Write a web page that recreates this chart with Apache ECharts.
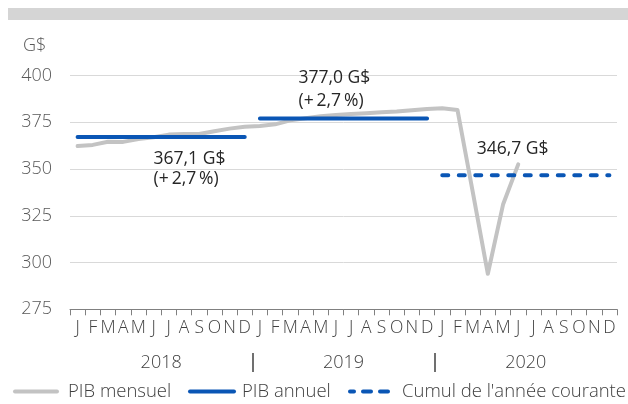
<!DOCTYPE html>
<html><head><meta charset="utf-8">
<script src="https://cdn.jsdelivr.net/npm/echarts@6/dist/echarts.min.js"></script>
<style>html,body{margin:0;padding:0;background:#fff}#c{width:628px;height:404px}</style>
</head><body><div id="c"></div>
<script>
// ---- data ----
const years = ['2018', '2019', '2020'];
const monthLetters = ['J','F','M','A','M','J','J','A','S','O','N','D'];
const monthlyGDP = [362.3, 362.9, 364.6, 364.5, 366.0, 367.0, 368.4, 368.7, 368.7, 370.2, 371.6, 372.6,
                    373.0, 373.9, 376.0, 377.1, 378.2, 378.9, 379.4, 379.8, 380.3, 380.7, 381.4, 382.1,
                    382.5, 381.6, 338.0, 294.0, 331.0, 352.5];
const annualGDP = [367.1, 377.0];      // 2018, 2019
const annualGrowth = [2.7, 2.7];       // %
const ytdGDP = [346.7];                // 2020 year to date
const yMin = 275, yMax = 400, yStep = 25;

// ---- build ----
const categories = [];
years.forEach(y => monthLetters.forEach((m, i) => categories.push(y + '-' + (i + 1))));
const nMonths = monthLetters.length;
const fmt = v => v.toFixed(1).replace('.', ',');
const FONT = "'Open Sans', sans-serif";
const FW = 300;
const FS = 18;
const BLUE = '#0a56b5', GRAY = '#c3c3c3';

function yearSegment(yearIdx, value, labelIdx, labelCfg) {
  const d = categories.map(() => null);
  for (let i = 0; i < nMonths; i++) d[yearIdx * nMonths + i] = value;
  if (labelCfg) {
    d[yearIdx * nMonths + labelIdx] = {
      value: value, symbol: 'circle', symbolSize: 1, itemStyle: { color: 'rgba(0,0,0,0)', borderWidth: 0 },
      label: Object.assign({
        show: true, align: 'left', fontFamily: FONT, fontWeight: 400, fontSize: 17.5, color: '#262626', lineHeight: 22
      }, labelCfg) };
  }
  return d;
}

const series = [
  { name: 'PIB mensuel', type: 'line', data: monthlyGDP, symbol: 'none', z: 2,
    lineStyle: { color: GRAY, width: 4, cap: 'round', join: 'round' }, itemStyle: { color: GRAY } },
  { name: 'PIB annuel', type: 'line', symbol: 'none', z: 3,
    data: yearSegment(0, annualGDP[0], 5, { position: 'bottom', distance: 11, lineHeight: 20.5,
      formatter: fmt(annualGDP[0]) + ' G$\n(+\u2009' + fmt(annualGrowth[0]) + '\u2009%)' }),
    lineStyle: { color: BLUE, width: 4, cap: 'round' }, itemStyle: { color: BLUE } },
  { name: 'PIB annuel', type: 'line', symbol: 'none', z: 3,
    data: yearSegment(1, annualGDP[1], 3, { position: 'top', distance: 6, offset: [-7, 0], lineHeight: 23,
      formatter: fmt(annualGDP[1]) + ' G$\n(+\u2009' + fmt(annualGrowth[1]) + '\u2009%)' }),
    lineStyle: { color: BLUE, width: 4, cap: 'round' }, itemStyle: { color: BLUE } },
  { name: "Cumul de l'année courante", type: 'line', symbol: 'none', z: 3,
    data: yearSegment(2, ytdGDP[0], 2, { position: 'top', distance: 15, offset: [4, 0],
      formatter: fmt(ytdGDP[0]) + ' G$' }),
    lineStyle: { color: BLUE, width: 4, type: [6, 10.5], cap: 'round' }, itemStyle: { color: BLUE } }
];

const noSym = { color: 'rgba(0,0,0,0)', borderWidth: 0, opacity: 0 };
const legendBase = { top: 382, padding: 0, itemHeight: 14, textStyle: { fontFamily: FONT, fontWeight: FW, fontSize: 18.5, color: '#404040' } };
function mkLegend(left, w, pad, item) {
  return Object.assign({}, legendBase, { left: left, itemWidth: w,
    textStyle: Object.assign({}, legendBase.textStyle, { padding: [0, 0, 0, pad] }), data: [item] });
}

const chart = echarts.init(document.getElementById('c'), null, { renderer: 'canvas' });
chart.setOption({
  animation: false,
  textStyle: { fontFamily: FONT, fontWeight: FW },
  title: { text: 'G$', left: 18, top: 32, textStyle: { fontFamily: FONT, fontSize: FS, fontWeight: FW, color: '#595959' } },
  graphic: [{ type: 'rect', left: 8, top: 8, shape: { width: 620, height: 12 }, style: { fill: '#d5d5d5' }, silent: true }],
  legend: [
    mkLegend(13, 42, 6, { name: 'PIB mensuel', itemStyle: noSym, lineStyle: { width: 4, color: GRAY } }),
    mkLegend(188, 44, 3, { name: 'PIB annuel', itemStyle: noSym, lineStyle: { width: 4, color: BLUE } }),
    mkLegend(348, 44, 3, { name: "Cumul de l'année courante", itemStyle: noSym,
      lineStyle: { width: 4, color: BLUE, type: [8, 9], dashOffset: 4, cap: 'round' } })
  ],
  grid: [
    { left: 70, right: 11, top: 75.5, bottom: 94.7 },
    { left: 70, right: 11, top: 353, height: 19 }
  ],
  xAxis: [
    { type: 'category', data: categories, gridIndex: 0, position: 'bottom', boundaryGap: true,
      axisLine: { lineStyle: { color: '#808080', width: 1 } },
      axisTick: { show: true, length: 6, interval: 0, lineStyle: { color: '#808080' } },
      axisLabel: { interval: 0, margin: 10, fontSize: 17.5, fontWeight: FW, color: '#404040', fontFamily: FONT,
        formatter: (v, i) => monthLetters[i % nMonths] } },
    { type: 'category', data: years, gridIndex: 0, position: 'bottom', offset: 34,
      axisLine: { show: false }, axisTick: { show: false },
      axisLabel: { margin: 11, fontSize: FS, fontWeight: FW, color: '#404040', fontFamily: FONT } },
    { type: 'value', gridIndex: 1, min: 0, max: categories.length, interval: nMonths,
      axisLine: { show: false }, axisTick: { show: false }, axisLabel: { show: false },
      splitLine: { show: true, showMinLine: false, showMaxLine: false, lineStyle: { color: '#404040', width: 1.5 } } }
  ],
  yAxis: [
    { type: 'value', gridIndex: 0, min: yMin, max: yMax, interval: yStep,
      axisLine: { show: false }, axisTick: { show: false },
      axisLabel: { margin: 18, fontSize: FS, fontWeight: FW, color: '#595959', fontFamily: FONT },
      splitLine: { lineStyle: { color: '#d9d9d9', width: 1 } } },
    { type: 'value', gridIndex: 1, show: false }
  ],
  series: series
});
</script>
</body></html>
